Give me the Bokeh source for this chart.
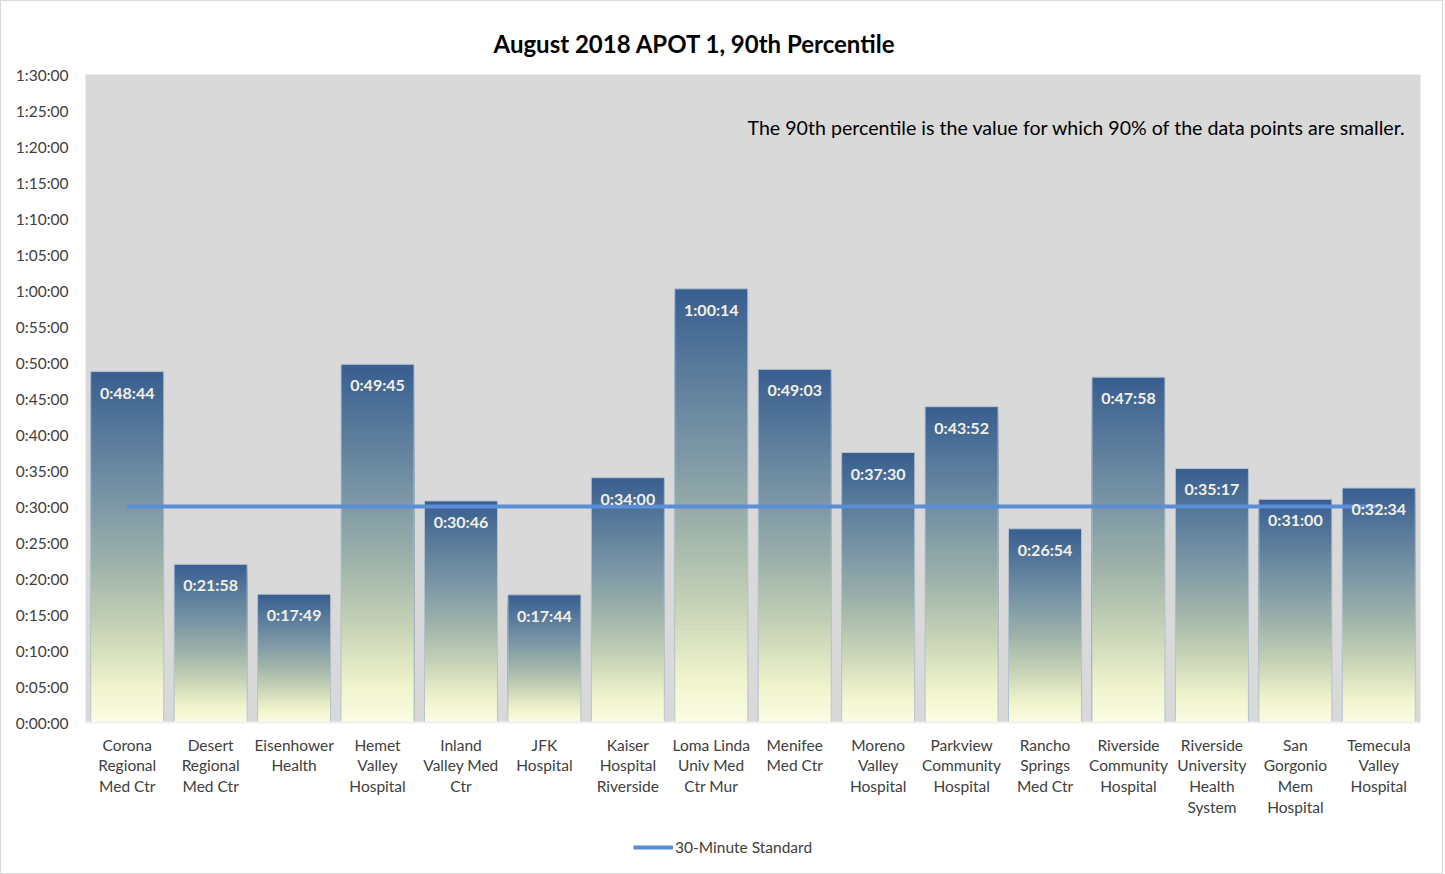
from bokeh.plotting import figure
from bokeh.layouts import column
from bokeh.models import (FactorRange, CustomJSTickFormatter, FixedTicker, Label,
                          Legend, LegendItem, ColumnDataSource, Range1d)
from bokeh.core.properties import value
from bokeh.embed import file_html
from bokeh.resources import INLINE

# ---- data ----
hospitals = ["Corona\nRegional\nMed Ctr", "Desert\nRegional\nMed Ctr", "Eisenhower\nHealth",
             "Hemet\nValley\nHospital", "Inland\nValley Med\nCtr", "JFK\nHospital",
             "Kaiser\nHospital\nRiverside", "Loma Linda\nUniv Med\nCtr Mur", "Menifee\nMed Ctr",
             "Moreno\nValley\nHospital", "Parkview\nCommunity\nHospital", "Rancho\nSprings\nMed Ctr",
             "Riverside\nCommunity\nHospital", "Riverside\nUniversity\nHealth\nSystem",
             "San\nGorgonio\nMem\nHospital", "Temecula\nValley\nHospital"]
apot_labels = ["0:48:44", "0:21:58", "0:17:49", "0:49:45", "0:30:46", "0:17:44", "0:34:00",
               "1:00:14", "0:49:03", "0:37:30", "0:43:52", "0:26:54", "0:47:58", "0:35:17",
               "0:31:00", "0:32:34"]
standard_seconds = 1800
standard_label = "30-Minute Standard"
y_max_seconds = 5400
tick_step_seconds = 300


def to_seconds(s):
    h, m, sec = (int(v) for v in s.split(":"))
    return h * 3600 + m * 60 + sec


apot_seconds = [to_seconds(s) for s in apot_labels]

FONT = "Lato"
TXT = "#404040"
LINE_COLOR = "#5b8ed6"

p = figure(x_range=FactorRange(factors=hospitals, range_padding=0),
           y_range=(0, y_max_seconds), width=1441, height=830,
           output_backend="svg", toolbar_location=None,
           min_border_left=84, min_border_right=22, min_border_top=73, min_border_bottom=109)
p.background_fill_color = "#d9d9d9"
p.border_fill_color = "white"
p.outline_line_color = None
p.xgrid.grid_line_color = None
p.ygrid.grid_line_color = None

# title
p.title.text = "August 2018 APOT 1, 90th Percentile"
p.title.align = "left"
p.title.offset = 408
p.title.text_font = FONT
p.title.text_font_size = "24px"
p.title.text_font_style = "bold"
p.title.text_color = "black"
p.title.standoff = 33

# gradient bars as overlapping bars of decreasing height
stops = [(0.0, (56, 94, 145)), (0.38, (124, 152, 166)), (0.55, (158, 178, 170)),
         (0.75, (203, 214, 184)), (0.9, (240, 244, 204)), (1.0, (252, 252, 228))]


def grad(t):
    for (t0, c0), (t1, c1) in zip(stops[:-1], stops[1:]):
        if t0 <= t <= t1:
            f = (t - t0) / (t1 - t0)
            return "#%02x%02x%02x" % tuple(int(round(a + (b - a) * f)) for a, b in zip(c0, c1))
    return "#%02x%02x%02x" % stops[-1][1]


N = 80
W = 0.875
for i in range(N):
    frac = 1 - i / N
    p.vbar(x=hospitals, top=[v * frac for v in apot_seconds], bottom=0, width=W,
           fill_color=grad((i + 0.5) / N), line_color=None)
p.vbar(x=hospitals, top=apot_seconds, width=W, fill_color=None, line_color="#b4c2d0", line_width=1)

# standard line
p.line(x=[hospitals[0], hospitals[-1]], y=[standard_seconds, standard_seconds],
       line_color=LINE_COLOR, line_width=4)

# data labels
src = ColumnDataSource(dict(x=hospitals, y=apot_seconds, t=apot_labels))
p.text(x="x", y="y", text="t", source=src, text_align="center", text_baseline="top",
       y_offset=11, text_font=value(FONT), text_font_style="bold", text_font_size="16px",
       text_color="#f2f0e4")

# note
p.add_layout(Label(x=15.83, y=4958, text="The 90th percentile is the value for which 90% of the data points are smaller.",
                   text_align="right", text_baseline="middle", text_font=FONT,
                   text_font_size="19.6px", text_color="black"))

# axes
p.yaxis.ticker = FixedTicker(ticks=list(range(0, y_max_seconds + 1, tick_step_seconds)))
p.yaxis.formatter = CustomJSTickFormatter(code="""
const h = Math.floor(tick/3600), m = Math.floor((tick%3600)/60), s = Math.round(tick%60);
return h + ':' + String(m).padStart(2,'0') + ':' + String(s).padStart(2,'0');
""")
p.yaxis.axis_line_color = None
p.yaxis.major_tick_line_color = None
p.yaxis.minor_tick_line_color = None
p.yaxis.major_label_text_font = FONT
p.yaxis.major_label_text_font_size = "15.5px"
p.yaxis.major_label_text_color = TXT
p.yaxis.major_label_standoff = 11

p.xaxis.axis_line_color = "#f0f0f0"
p.xaxis.axis_line_width = 2
p.xaxis.major_tick_line_color = None
p.xaxis.minor_tick_line_color = None
p.xaxis.major_label_text_font = FONT
p.xaxis.major_label_text_font_size = "15.5px"
p.xaxis.major_label_text_color = TXT
p.xaxis.major_label_standoff = 7
p.xaxis.major_label_text_line_height = 1.15

# legend strip below the chart
lf = figure(width=1441, height=42, x_range=Range1d(0, 1), y_range=Range1d(0, 1),
            output_backend="svg", toolbar_location=None,
            min_border_left=0, min_border_right=0, min_border_top=0, min_border_bottom=0)
lf.axis.visible = False
lf.grid.visible = False
lf.outline_line_color = None
lf.background_fill_color = "white"
lf.border_fill_color = "white"
# key line lies outside the strip's visible range; only its legend swatch shows
key = lf.line(x=[5, 6], y=[5, 5], line_color=LINE_COLOR, line_width=4)
legend = Legend(items=[LegendItem(label=standard_label, renderers=[key])],
                location=(548, 16), orientation="horizontal",
                label_text_font=FONT, label_text_font_size="15.5px", label_text_color=TXT,
                glyph_width=40, label_standoff=2, border_line_color=None,
                background_fill_alpha=0, padding=0, margin=0)
lf.add_layout(legend)

layout = column(p, lf, spacing=0, styles={"border": "1px solid #d9d9d9"})

open("out.html", "w").write(file_html(layout, INLINE))
